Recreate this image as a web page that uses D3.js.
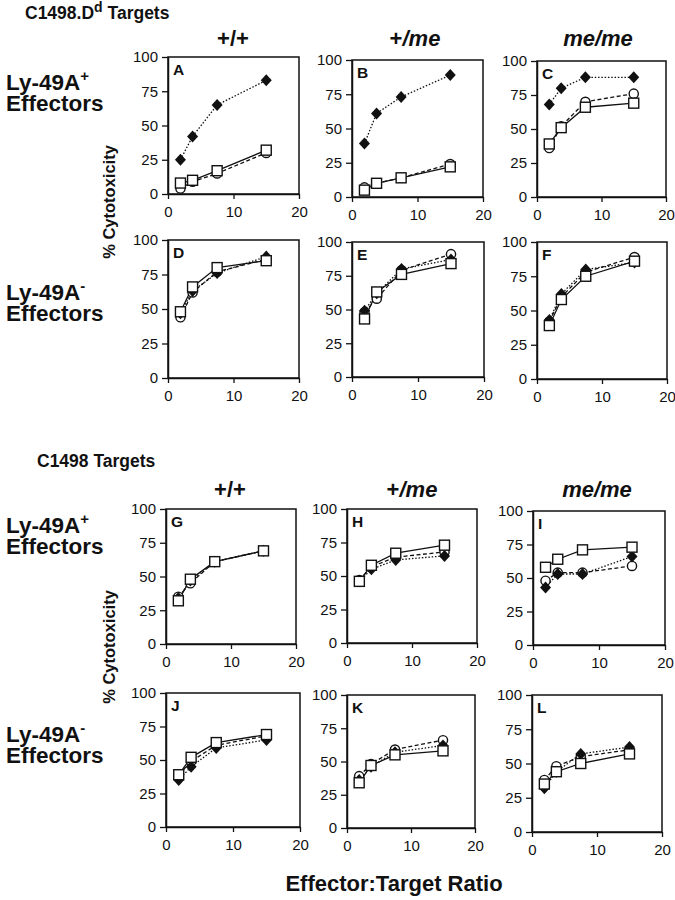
<!DOCTYPE html>
<html>
<head>
<meta charset="utf-8">
<script src="https://cdn.jsdelivr.net/npm/d3@7"></script>
<style>
  body { margin: 0; background: #fff; }
  text { font-family: "Liberation Sans", Arial, Helvetica, sans-serif; fill: #111; }
</style>
</head>
<body>
<div id="chart"></div>
<script>
// E:T ratios used in every panel
const ratios = [1.9, 3.75, 7.5, 15];
const panelLetters = ["A", "B", "C", "D", "E", "F", "G", "H", "I", "J", "K", "L"];
const genotypes = ["+/+", "+/me", "me/me"];
const xTicks = [0, 10, 20];
const yTicks = [0, 25, 50, 75, 100];

// % cytotoxicity, one row per panel (A..L)
const diamondVals = [
    [25, 42, 65, 83], [39, 61, 73, 89], [68, 80, 88, 88],
    [47, 63, 76, 88], [49, 62, 80, 87], [43, 62, 80, 85],
    [34, 47, 61, 69], [46, 55, 62, 65], [43, 53, 53, 66],
    [35, 45, 59, 65], [36, 46, 57, 62], [32, 44, 57, 62]
];
const circleVals = [
    [4, 9, 15, 30], [7, 10, 14, 24], [36, 52, 70, 76],
    [44, 62, 77, 86], [48, 58, 79, 91], [42, 60, 78, 89],
    [35, 45, 61, 69], [47, 57, 64, 68], [48, 54, 54, 59],
    [39, 49, 61, 68], [39, 48, 59, 66], [38, 48, 55, 60]
];
const squareVals = [
    [8, 10, 17, 32], [5, 10, 14, 22], [39, 51, 66, 69],
    [48, 66, 80, 85], [43, 63, 76, 84], [39, 58, 75, 86],
    [32, 48, 61, 69], [46, 58, 67, 73], [58, 64, 71, 73],
    [39, 52, 63, 69], [34, 47, 55, 58], [35, 44, 50, 57]
];

// panel boxes [left, top, width, height] (the scan is slightly uneven)
const layout = [
    [168, 57, 131, 137], [352, 60, 131, 137], [537, 61, 129, 136],
    [168, 240, 131, 138], [352, 242, 132, 135], [537, 242, 130, 137],
    [166, 509, 130, 135], [347, 509, 130, 134], [533, 511, 132, 134],
    [166, 693, 134, 134], [347, 695, 128, 133], [532, 695, 130, 137]
];

const svg = d3.select("#chart")
    .append("svg")
    .attr("width", 675)
    .attr("height", 900);

const series = [
    {vals: circleVals, dash: "4,2.5", shape: "circle"},
    {vals: diamondVals, dash: "1.5,1.8", shape: "diamond"},
    {vals: squareVals, dash: null, shape: "square"}
];

function drawPanel(i) {
    const [left, top, w, h] = layout[i];
    const g = svg.append("g").attr("transform", `translate(${left},${top})`);

    const x = d3.scaleLinear().domain([0, 20]).range([0, w]);
    const y = d3.scaleLinear().domain([0, 100]).range([h, 0]);

    g.append("rect")
        .attr("width", w)
        .attr("height", h)
        .attr("fill", "none")
        .attr("stroke", "#111")
        .attr("stroke-width", 1.5);

    const xAxis = g.append("g")
        .attr("transform", "translate(0," + h + ")")
        .call(d3.axisBottom(x).tickValues(xTicks).tickSize(5).tickSizeOuter(0).tickPadding(7));
    const yAxis = g.append("g")
        .call(d3.axisLeft(y).tickValues(yTicks).tickSize(6).tickSizeOuter(0).tickPadding(4));

    [xAxis, yAxis].forEach(function(a) {
        a.select(".domain").attr("stroke", "#111").attr("stroke-width", 1.5);
        a.selectAll(".tick line").attr("stroke", "#111").attr("stroke-width", 1.3);
        a.selectAll(".tick text")
            .attr("fill", "#111")
            .style("font-size", "15px")
            .style("font-family", "'Liberation Sans', Arial, sans-serif");
    });

    g.append("text")
        .attr("x", 5)
        .attr("y", 18)
        .style("font-size", "15.5px")
        .style("font-weight", "bold")
        .text(panelLetters[i]);

    const line = d3.line()
        .x(function(d) { return x(d[0]); })
        .y(function(d) { return y(d[1]); });

    series.forEach(function(s) {
        const pts = ratios.map(function(r, j) { return [r, s.vals[i][j]]; });
        g.append("path")
            .datum(pts)
            .attr("d", line)
            .attr("fill", "none")
            .attr("stroke", "#111")
            .attr("stroke-width", 1.3)
            .attr("stroke-dasharray", s.dash);
    });

    series.forEach(function(s) {
        const pts = ratios.map(function(r, j) { return [r, s.vals[i][j]]; });
        const m = g.selectAll("m" + s.shape)
            .data(pts)
            .enter();
        if (s.shape === "circle") {
            m.append("circle")
                .attr("cx", function(d) { return x(d[0]); })
                .attr("cy", function(d) { return y(d[1]); })
                .attr("r", 4.6)
                .attr("fill", "#fff")
                .attr("stroke", "#111")
                .attr("stroke-width", 1.4);
        } else if (s.shape === "diamond") {
            m.append("path")
                .attr("d", "M0,-6L5.5,0L0,6L-5.5,0Z")
                .attr("transform", function(d) { return "translate(" + x(d[0]) + "," + y(d[1]) + ")"; })
                .attr("fill", "#111");
        } else {
            m.append("rect")
                .attr("x", function(d) { return x(d[0]) - 5; })
                .attr("y", function(d) { return y(d[1]) - 5; })
                .attr("width", 10)
                .attr("height", 10)
                .attr("fill", "#fff")
                .attr("stroke", "#111")
                .attr("stroke-width", 1.4);
        }
    });
}

for (let i = 0; i < 12; i++) {
    drawPanel(i);
}

// section titles
const t1 = svg.append("text")
    .attr("x", 25)
    .attr("y", 19)
    .style("font-size", "17.5px")
    .style("font-weight", "bold");
t1.append("tspan").text("C1498.D");
t1.append("tspan").attr("dy", -7).style("font-size", "14px").text("d");
t1.append("tspan").attr("dy", 7).text(" Targets");

svg.append("text")
    .attr("x", 37)
    .attr("y", 467)
    .style("font-size", "17.5px")
    .style("font-weight", "bold")
    .text("C1498 Targets");

// genotype column headers
const headerRows = [46, 497];
const headerX = [[233, 415, 598], [230, 412, 597]];
headerRows.forEach(function(yy, r) {
    genotypes.forEach(function(gt, c) {
        const t = svg.append("text")
            .attr("x", headerX[r][c])
            .attr("y", yy)
            .attr("text-anchor", "middle")
            .style("font-size", "22px")
            .style("font-weight", "bold");
        if (gt === "+/+") {
            t.text(gt);
        } else if (gt === "+/me") {
            t.append("tspan").text("+");
            t.append("tspan").style("font-style", "italic").text("/me");
        } else {
            t.style("font-style", "italic").text(gt);
        }
    });
});

// effector row labels (two lines in one text)
const rowSigns = ["+", "-", "+", "-"];
const rowBase = [90, 300, 533, 742];
rowSigns.forEach(function(sign, r) {
    const t = svg.append("text")
        .attr("x", 6)
        .attr("y", rowBase[r])
        .style("font-size", "22.5px")
        .style("font-weight", "bold");
    t.append("tspan").text("Ly-49A");
    t.append("tspan").attr("dy", -9).style("font-size", "15px").text(sign);
    t.append("tspan").attr("x", 6).attr("dy", 30).text("Effectors");
});

// axis titles
[202, 647].forEach(function(cy) {
    svg.append("text")
        .attr("transform", "translate(115," + cy + ") rotate(-90)")
        .attr("text-anchor", "middle")
        .style("font-size", "16.5px")
        .style("font-weight", "bold")
        .text("% Cytotoxicity");
});

svg.append("text")
    .attr("x", 394)
    .attr("y", 891)
    .attr("text-anchor", "middle")
    .style("font-size", "22px")
    .style("font-weight", "bold")
    .text("Effector:Target Ratio");
</script>
</body>
</html>
